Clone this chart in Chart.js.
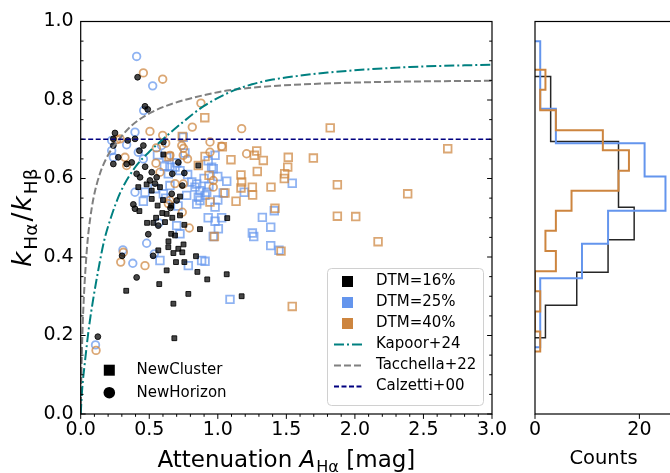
<!DOCTYPE html>
<html>
<head>
<meta charset="utf-8">
<script src="https://cdn.jsdelivr.net/npm/chart.js@4.4.1/dist/chart.umd.min.js"></script>
<style>
  html, body { margin: 0; padding: 0; background: #fff; overflow: hidden; }
  #wrap { position: relative; width: 670px; height: 473px; overflow: hidden; }
  #main { position: absolute; left: 0; top: 0; }
  #hist { position: absolute; left: 520px; top: 0; }
</style>
</head>
<body>
<div id="wrap">
  <canvas id="main" width="520" height="473"></canvas>
  <canvas id="hist" width="152" height="473"></canvas>
</div>
<script>
// ---- data: [A_Halpha (mag), k_Ha/k_Hb] ----
// NewCluster (squares)
const ncDtm16 = [[0.603,0.661],[0.420,0.578],[0.481,0.585],[0.518,0.548],[0.724,0.554],[0.858,0.633],[0.561,0.531],[0.428,0.517],[0.595,0.512],[0.627,0.510],[0.668,0.500],[0.724,0.506],[0.660,0.531],[0.484,0.487],[0.530,0.487],[0.615,0.489],[0.756,0.482],[0.870,0.471],[0.660,0.459],[0.688,0.455],[0.750,0.432],[0.639,0.425],[0.712,0.421],[0.566,0.417],[0.676,0.410],[0.741,0.412],[0.841,0.402],[0.695,0.387],[0.756,0.387],[0.627,0.366],[0.851,0.362],[0.923,0.343],[0.573,0.331],[0.332,0.314],[0.785,0.306],[0.676,0.281],[0.683,0.193],[1.069,0.499],[1.065,0.356],[1.174,0.300],[0.518,0.569],[0.578,0.578],[0.600,0.545],[0.550,0.500],[0.640,0.440]];
const ncDtm25 = [[0.748,0.705],[0.610,0.631],[0.639,0.612],[0.651,0.582],[0.810,0.591],[0.834,0.578],[0.870,0.569],[0.907,0.557],[0.955,0.629],[0.542,0.574],[0.603,0.561],[0.773,0.557],[0.858,0.552],[0.980,0.659],[0.967,0.625],[1.065,0.593],[1.543,0.588],[1.040,0.563],[0.919,0.565],[1.193,0.565],[0.980,0.527],[1.325,0.501],[1.412,0.518],[0.980,0.491],[1.028,0.500],[1.004,0.472],[0.967,0.452],[1.252,0.461],[1.262,0.452],[1.386,0.476],[1.386,0.429],[1.446,0.417],[0.907,0.389],[1.089,0.292],[0.846,0.535],[0.724,0.459],[0.578,0.391],[0.785,0.378],[0.882,0.391],[0.457,0.542],[0.651,0.629],[0.724,0.620],[0.846,0.586],[0.870,0.544],[0.469,0.565],[0.688,0.629],[0.627,0.654],[0.700,0.640],[0.780,0.610],[0.900,0.600],[0.930,0.645],[0.560,0.660],[0.760,0.665],[0.935,0.580],[1.000,0.605],[0.620,0.550],[0.710,0.530],[1.000,0.545],[0.930,0.500],[0.700,0.480]];
const ncDtm40 = [[0.905,0.755],[1.820,0.729],[0.741,0.707],[1.033,0.681],[2.677,0.676],[1.284,0.670],[1.266,0.659],[0.644,0.656],[0.907,0.656],[1.096,0.648],[1.332,0.646],[1.514,0.654],[1.697,0.652],[0.858,0.633],[1.510,0.629],[1.488,0.612],[1.485,0.600],[1.288,0.618],[1.169,0.609],[0.936,0.608],[1.388,0.578],[1.169,0.576],[1.252,0.578],[1.254,0.558],[1.052,0.563],[1.133,0.542],[0.943,0.540],[1.417,0.524],[0.975,0.452],[1.461,0.415],[1.543,0.274],[1.872,0.584],[2.385,0.561],[1.872,0.504],[2.006,0.503],[2.169,0.439],[1.174,0.591]];
// NewHorizon (circles)
const nhDtm16 = [[0.415,0.858],[0.469,0.784],[0.489,0.776],[0.250,0.716],[0.238,0.701],[0.343,0.697],[0.396,0.701],[0.457,0.684],[0.428,0.671],[0.603,0.693],[0.238,0.684],[0.274,0.654],[0.238,0.637],[0.335,0.637],[0.372,0.641],[0.408,0.612],[0.433,0.603],[0.518,0.616],[0.554,0.603],[0.668,0.612],[0.712,0.641],[0.756,0.614],[0.505,0.595],[0.542,0.587],[0.741,0.582],[0.664,0.561],[0.700,0.544],[0.384,0.534],[0.396,0.523],[0.655,0.525],[0.566,0.480],[0.493,0.458],[0.302,0.403],[0.528,0.403],[0.408,0.348],[0.125,0.197],[0.470,0.630]];
const nhDtm25 = [[0.408,0.911],[0.525,0.836],[0.459,0.773],[0.396,0.718],[0.226,0.697],[0.335,0.686],[0.590,0.684],[0.226,0.671],[0.420,0.667],[0.238,0.654],[0.457,0.650],[0.396,0.565],[0.571,0.487],[0.481,0.435],[0.537,0.408],[0.308,0.418],[0.380,0.384],[0.108,0.176]];
const nhDtm40 = [[0.457,0.869],[0.598,0.853],[0.877,0.792],[0.814,0.731],[1.174,0.727],[0.505,0.720],[0.598,0.710],[0.263,0.699],[0.943,0.693],[0.737,0.684],[1.028,0.682],[0.552,0.678],[0.943,0.667],[1.210,0.663],[0.748,0.659],[0.651,0.659],[0.323,0.654],[0.779,0.650],[0.549,0.639],[0.335,0.633],[0.578,0.616],[0.967,0.595],[0.967,0.578],[0.748,0.586],[0.688,0.587],[0.651,0.544],[0.639,0.536],[0.741,0.514],[0.792,0.474],[0.311,0.412],[0.292,0.387],[0.469,0.378],[0.112,0.162],[0.287,0.701],[0.750,0.677],[0.620,0.690]];

// model curves
const kapoorA = [0, 0.01, 0.03, 0.06, 0.09, 0.13, 0.17, 0.22, 0.29, 0.40, 0.50, 0.60, 0.75, 0.90, 1.10, 1.25, 1.40, 1.60, 1.80, 2.40, 3.00];
const kapoorK = [0, 0.06, 0.13, 0.22, 0.29, 0.37, 0.44, 0.50, 0.565, 0.63, 0.668, 0.70, 0.745, 0.785, 0.822, 0.840, 0.852, 0.862, 0.870, 0.884, 0.890];
const tacchellaA = [0, 0.005, 0.012, 0.022, 0.035, 0.05, 0.07, 0.095, 0.14, 0.20, 0.274, 0.372, 0.518, 0.664, 0.834, 1.068, 1.30, 1.70, 2.20, 3.00];
const tacchellaK = [0, 0.10, 0.20, 0.29, 0.37, 0.44, 0.50, 0.553, 0.612, 0.66, 0.697, 0.735, 0.769, 0.79, 0.807, 0.824, 0.833, 0.841, 0.846, 0.849];
const calzettiK = 0.7;

// histograms (bin edges on k ratio, counts)
const histDtm16Edges = [0.194, 0.277, 0.361, 0.444, 0.527, 0.610, 0.694, 0.777, 0.860];
const histDtm16Counts = [2, 8, 14, 19, 16, 16, 3, 3];
const histDtm25Edges = [0.170, 0.258, 0.346, 0.434, 0.518, 0.605, 0.690, 0.778, 0.864, 0.950];
const histDtm25Counts = [1, 1, 9, 14, 25, 21, 4, 1, 1];
const histDtm40Edges = [0.159, 0.210, 0.261, 0.313, 0.364, 0.415, 0.467, 0.518, 0.569, 0.620, 0.672, 0.723, 0.774, 0.826, 0.877];
const histDtm40Counts = [1, 0, 1, 0, 4, 2, 4, 7, 16, 18, 13, 4, 1, 2];

// ticks and labels
const xTicks = [0, 0.5, 1.0, 1.5, 2.0, 2.5, 3.0];
const yTicks = [0, 0.2, 0.4, 0.6, 0.8, 1.0];
const countTicks = [0, 20];
const dtmLabels = ['DTM=16%', 'DTM=25%', 'DTM=40%'];
const modelLabels = ['Kapoor+24', 'Tacchella+22', 'Calzetti+00'];
const simLabels = ['NewCluster', 'NewHorizon'];

const FONT = '"DejaVu Sans"';
const BLUE = '#6495ED', ORANGE = '#CD853F';
const BLUE_A = 'rgba(100,149,237,0.72)', ORANGE_A = 'rgba(205,133,63,0.72)';
const TEAL = '#008080', GREY = '#808080', NAVY = '#000080';

function pts(arr) { return arr.map(p => ({x: p[0], y: p[1]})); }
function curve(xs, ys) { return xs.map((v, i) => ({x: v, y: ys[i]})); }
function stepPoints(edges, counts) {
  const out = [{x: 0, y: edges[0]}];
  counts.forEach((c, i) => { out.push({x: c, y: edges[i]}); out.push({x: c, y: edges[i + 1]}); });
  out.push({x: 0, y: edges[edges.length - 1]});
  return out;
}

// text with sub/superscript pieces, centred on cx, baseline at by
function drawRich(ctx, parts, cx, by) {
  let w = 0;
  parts.forEach(p => { ctx.font = p.font; w += ctx.measureText(p.t).width + (p.gap || 0); });
  let xx = cx - w / 2;
  parts.forEach(p => {
    ctx.font = p.font;
    ctx.fillText(p.t, xx, by + (p.dy || 0));
    xx += ctx.measureText(p.t).width + (p.gap || 0);
  });
}

function tickMarks(ctx, scale, vals, horiz, base, len) {
  vals.forEach(v => {
    const p = scale.getPixelForValue(v);
    if (horiz) { ctx.moveTo(p, base); ctx.lineTo(p, base + len); }
    else { ctx.moveTo(base, p); ctx.lineTo(base + len, p); }
  });
}

const decorMain = {
  id: 'decorMain',
  afterDraw(chart) {
    const {ctx, chartArea: a, scales: {x, y}} = chart;
    const xMinor = [], yMinor = [];
    for (let i = 0; i <= 30; i++) if (i % 5) xMinor.push(i / 10);
    for (let i = 0; i <= 20; i++) if (i % 4) yMinor.push(i / 20);
    ctx.save();
    ctx.strokeStyle = '#000';
    ctx.lineWidth = 1;
    ctx.beginPath();
    tickMarks(ctx, x, xMinor, true, a.bottom, 2.8);
    tickMarks(ctx, x, xTicks, true, a.bottom, 4.9);
    tickMarks(ctx, y, yMinor, false, a.left, 2.8);
    tickMarks(ctx, y, yTicks, false, a.left, 4.9);
    tickMarks(ctx, y, yMinor, false, a.right, -2.8);
    tickMarks(ctx, y, yTicks, false, a.right, -4.9);
    ctx.stroke();
    ctx.lineWidth = 1.2;
    ctx.strokeRect(a.left, a.top, a.right - a.left, a.bottom - a.top);

    // axis titles
    ctx.fillStyle = '#000';
    ctx.textAlign = 'left';
    ctx.textBaseline = 'alphabetic';
    const f = '23px ' + FONT, fi = 'italic 23px ' + FONT, fs = '16.1px ' + FONT;
    drawRich(ctx, [{t: 'Attenuation ', font: f}, {t: 'A', font: fi, gap: 1}, {t: 'Hα', font: fs, dy: 5}, {t: ' [mag]', font: f}],
      (a.left + a.right) / 2, 466.5);
    const g = '26.5px ' + FONT, gi = 'italic 26.5px ' + FONT, gs = '18.5px ' + FONT;
    ctx.save();
    ctx.translate(31, (a.top + a.bottom) / 2);
    ctx.rotate(-Math.PI / 2);
    drawRich(ctx, [{t: 'k', font: gi, gap: 2}, {t: 'Hα', font: gs, dy: 5.5, gap: 2}, {t: '/', font: g, gap: 1},
      {t: 'k', font: gi, gap: 2}, {t: 'Hβ', font: gs, dy: 5.5}], 0, 0);
    ctx.restore();

    // legend box
    ctx.fillStyle = 'rgba(255,255,255,0.8)';
    ctx.strokeStyle = '#d0d0d0';
    ctx.lineWidth = 1;
    ctx.beginPath();
    ctx.roundRect(327.5, 268.5, 156, 137, 4);
    ctx.fill();
    ctx.stroke();
    ctx.font = '15px ' + FONT;
    ctx.textBaseline = 'middle';
    const swatch = ['#000', BLUE, ORANGE];
    dtmLabels.forEach((lab, i) => {
      const ry = 281.5 + 21 * i;
      ctx.fillStyle = swatch[i];
      ctx.fillRect(342, ry - 5.5, 11, 11);
      ctx.fillStyle = '#000';
      ctx.fillText(lab, 376, ry);
    });
    const lstyle = [[TEAL, [10, 3, 2, 3]], [GREY, [7, 3]], [NAVY, [5, 2.5]]];
    modelLabels.forEach((lab, i) => {
      const ry = 281.5 + 21 * (i + 3);
      ctx.strokeStyle = lstyle[i][0];
      ctx.lineWidth = 2;
      ctx.setLineDash(lstyle[i][1]);
      ctx.beginPath(); ctx.moveTo(334, ry); ctx.lineTo(362, ry); ctx.stroke();
      ctx.setLineDash([]);
      ctx.fillStyle = '#000';
      ctx.fillText(lab, 376, ry);
    });
    // simulation legend (marker shape)
    ctx.fillStyle = '#000';
    ctx.fillRect(103.8, 364.7, 11, 11);
    ctx.beginPath(); ctx.arc(109.3, 392.7, 5.8, 0, Math.PI * 2); ctx.fill();
    ctx.fillText(simLabels[0], 136.5, 370.2);
    ctx.fillText(simLabels[1], 136.5, 392.7);
    ctx.restore();
  }
};

const decorHist = {
  id: 'decorHist',
  afterDraw(chart) {
    const {ctx, chartArea: a, scales: {x}} = chart;
    ctx.save();
    ctx.strokeStyle = '#000';
    ctx.lineWidth = 1.2;
    ctx.strokeRect(a.left, a.top, a.right - a.left, a.bottom - a.top);
    ctx.lineWidth = 1;
    ctx.beginPath();
    tickMarks(ctx, x, countTicks, true, a.bottom, 4.9);
    ctx.stroke();
    ctx.fillStyle = '#000';
    ctx.font = '19.5px ' + FONT;
    ctx.textAlign = 'center';
    ctx.textBaseline = 'alphabetic';
    ctx.fillText('Counts', 83.5, 464);
    ctx.restore();
  }
};

const tickFont = {family: FONT, size: 19};

new Chart(document.getElementById('main'), {
  type: 'scatter',
  data: {
    datasets: [
      {data: [{x: xTicks[0], y: calzettiK}, {x: xTicks[xTicks.length - 1], y: calzettiK}], showLine: true, pointRadius: 0,
        borderColor: NAVY, borderWidth: 1.5, borderDash: [5, 2.5], order: 1},
      {data: curve(kapoorA, kapoorK), showLine: true, pointRadius: 0, borderColor: TEAL, borderWidth: 2,
        borderDash: [10, 3, 2, 3], cubicInterpolationMode: 'monotone', tension: 0.4, order: 2},
      {data: curve(tacchellaA, tacchellaK), showLine: true, pointRadius: 0, borderColor: GREY, borderWidth: 2,
        borderDash: [7, 3], cubicInterpolationMode: 'monotone', tension: 0.4, order: 3},
      {data: pts(nhDtm16), pointStyle: 'circle', pointRadius: 2.9, backgroundColor: 'rgba(0,0,0,0.72)',
        borderColor: 'rgba(0,0,0,0.85)', borderWidth: 1, order: 4},
      {data: pts(ncDtm16), pointStyle: 'rect', pointRadius: 3.4, backgroundColor: 'rgba(0,0,0,0.72)',
        borderColor: 'rgba(0,0,0,0.85)', borderWidth: 1, order: 5},
      {data: pts(nhDtm40), pointStyle: 'circle', pointRadius: 3.8, backgroundColor: 'rgba(0,0,0,0)',
        borderColor: ORANGE_A, borderWidth: 1.8, order: 6},
      {data: pts(nhDtm25), pointStyle: 'circle', pointRadius: 3.8, backgroundColor: 'rgba(0,0,0,0)',
        borderColor: BLUE_A, borderWidth: 1.8, order: 7},
      {data: pts(ncDtm40), pointStyle: 'rect', pointRadius: 5.4, backgroundColor: 'rgba(0,0,0,0)',
        borderColor: ORANGE_A, borderWidth: 1.8, order: 8},
      {data: pts(ncDtm25), pointStyle: 'rect', pointRadius: 5.4, backgroundColor: 'rgba(0,0,0,0)',
        borderColor: BLUE_A, borderWidth: 1.8, order: 9}
    ]
  },
  options: {
    responsive: false,
    animation: false,
    events: [],
    layout: {padding: {left: 0, top: 21.5, right: 28, bottom: 0}},
    plugins: {legend: {display: false}, tooltip: {enabled: false}},
    scales: {
      x: {
        type: 'linear', min: 0, max: 3,
        grid: {display: false, drawTicks: false}, border: {display: false},
        afterBuildTicks: s => { s.ticks = xTicks.map(v => ({value: v})); },
        afterFit: s => { s.height = 59; },
        ticks: {padding: 5, color: '#000', font: tickFont, maxRotation: 0, autoSkip: false,
          callback: v => Number(v).toFixed(1)}
      },
      y: {
        type: 'linear', min: 0, max: 1,
        grid: {display: false, drawTicks: false}, border: {display: false},
        afterBuildTicks: s => { s.ticks = yTicks.map(v => ({value: v})); },
        afterFit: s => { s.width = 80.7; },
        ticks: {padding: 7, color: '#000', font: tickFont, autoSkip: false,
          callback: v => Number(v).toFixed(1)}
      }
    }
  },
  plugins: [decorMain]
});

new Chart(document.getElementById('hist'), {
  type: 'scatter',
  data: {
    datasets: [
      {data: stepPoints(histDtm40Edges, histDtm40Counts), showLine: true, pointRadius: 0, borderColor: ORANGE, borderWidth: 2, order: 1},
      {data: stepPoints(histDtm25Edges, histDtm25Counts), showLine: true, pointRadius: 0, borderColor: BLUE, borderWidth: 2, order: 2},
      {data: stepPoints(histDtm16Edges, histDtm16Counts), showLine: true, pointRadius: 0, borderColor: 'rgba(0,0,0,0.85)', borderWidth: 1.5, order: 3}
    ]
  },
  options: {
    responsive: false,
    animation: false,
    events: [],
    layout: {padding: {left: 15, top: 21.5, right: 0, bottom: 0}},
    plugins: {legend: {display: false}, tooltip: {enabled: false}},
    scales: {
      x: {
        type: 'linear', min: 0, max: 26.25,
        grid: {display: false, drawTicks: false}, border: {display: false},
        afterBuildTicks: s => { s.ticks = countTicks.map(v => ({value: v})); },
        afterFit: s => { s.height = 59; },
        ticks: {padding: 5, color: '#000', font: tickFont, maxRotation: 0, autoSkip: false, includeBounds: false}
      },
      y: {type: 'linear', min: 0, max: 1, display: false}
    }
  },
  plugins: [decorHist]
});
</script>
</body>
</html>
